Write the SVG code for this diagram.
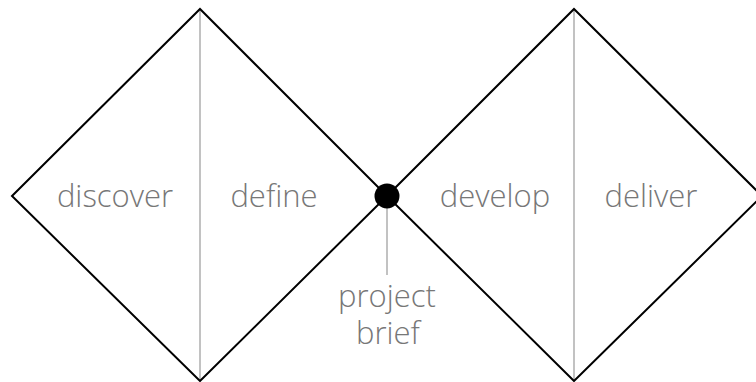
<svg xmlns="http://www.w3.org/2000/svg" width="756" height="382" viewBox="0 0 756 382">
<style>
.d{fill:none;stroke:#000;stroke-width:2}
.v{stroke:#999;stroke-width:1.2}
.t{font-family:"Open Sans",Lato,sans-serif;font-weight:300;font-size:31px;fill:#777;text-anchor:middle}
</style>
<rect width="756" height="382" fill="#fff"/>
<g id="connectors">
<line class="v" x1="200" y1="9" x2="200" y2="381"/>
<line class="v" x1="574" y1="9" x2="574" y2="381"/>
<line class="v" x1="387" y1="196" x2="387" y2="275"/>
</g>
<g id="diamond-left"><polygon class="d" points="12,196 200,9 387,196 200,381"/></g>
<g id="diamond-right"><polygon class="d" points="387,196 574,9 762,196 574,381"/></g>
<g id="discover"><text class="t" x="115" y="207">discover</text></g>
<g id="define"><text class="t" x="274" y="207">define</text></g>
<g id="develop"><text class="t" x="495" y="207">develop</text></g>
<g id="deliver"><text class="t" x="651" y="207">deliver</text></g>
<g id="brief-point"><circle cx="387" cy="196" r="12.5" fill="#000"/></g>
<g id="project-brief"><text class="t" x="387" y="307">project</text><text class="t" x="388" y="344">brief</text></g>
</svg>
